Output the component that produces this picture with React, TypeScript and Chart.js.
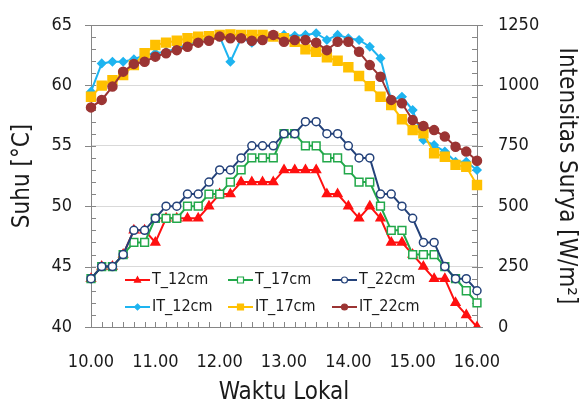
import React, { useEffect, useRef } from 'react';
import { Chart, registerables } from 'chart.js';

Chart.register(...registerables);

// ---- data ----
const times = [
  '10.00', '10.10', '10.20', '10.30', '10.40', '10.50',
  '11.00', '11.10', '11.20', '11.30', '11.40', '11.50',
  '12.00', '12.10', '12.20', '12.30', '12.40', '12.50',
  '13.00', '13.10', '13.20', '13.30', '13.40', '13.50',
  '14.00', '14.10', '14.20', '14.30', '14.40', '14.50',
  '15.00', '15.10', '15.20', '15.30', '15.40', '15.50',
  '16.00',
];

const t12 = [44, 45, 45, 46, 48, 48, 47, 49, 49, 49, 49, 50, 51, 51, 52, 52, 52, 52, 53, 53, 53, 53, 51, 51, 50, 49, 50, 49, 47, 47, 46, 45, 44, 44, 42, 41, 40];
const t17 = [44, 45, 45, 46, 47, 47, 49, 49, 49, 50, 50, 51, 51, 52, 53, 54, 54, 54, 56, 56, 55, 55, 54, 54, 53, 52, 52, 50, 48, 48, 46, 46, 46, 45, 44, 43, 42];
const t22 = [44, 45, 45, 46, 48, 48, 49, 50, 50, 51, 51, 52, 53, 53, 54, 55, 55, 55, 56, 56, 57, 57, 56, 56, 55, 54, 54, 51, 51, 50, 49, 47, 47, 45, 44, 44, 43];

const it12 = [974, 1091, 1098, 1098, 1108, 1126, 1133, 1139, 1153, 1167, 1185, 1195, 1202, 1098, 1195, 1177, 1191, 1205, 1209, 1205, 1209, 1216, 1188, 1209, 1195, 1188, 1160, 1112, 940, 953, 898, 774, 753, 726, 684, 684, 650];
const it17 = [953, 999, 1022, 1043, 1084, 1133, 1167, 1177, 1185, 1195, 1202, 1204, 1209, 1211, 1209, 1209, 1209, 1202, 1195, 1181, 1149, 1139, 1116, 1102, 1075, 1039, 997, 953, 919, 860, 815, 802, 719, 705, 671, 663, 588];
const it22 = [909, 940, 995, 1057, 1089, 1098, 1119, 1133, 1146, 1160, 1177, 1185, 1202, 1195, 1195, 1185, 1188, 1209, 1181, 1188, 1188, 1177, 1146, 1181, 1181, 1139, 1084, 1036, 940, 926, 857, 832, 815, 788, 746, 726, 688];

const seriesNames = ['T_12cm', 'T_17cm', 'T_22cm', 'IT_12cm', 'IT_17cm', 'IT_22cm'];

// ---- styles ----
const FONT = '"DejaVu Sans Condensed", "Liberation Sans", sans-serif';
const AXIS = '#868686';
const GRID = '#d9d9d9';
const TEXT = '#1a1a1a';
const NONE = 'rgba(0,0,0,0)';

const RED = '#ff1010';
const GREEN = '#22a84a';
const NAVY = '#24427a';
const SKY = '#1eb4f0';
const GOLD = '#ffc000';
const BROWN = '#9b3433';

function drawMarker(ctx: CanvasRenderingContext2D, style: string, x: number, y: number, r: number, fill: string, stroke: string, lw: number) {
  ctx.save();
  ctx.beginPath();
  if (style === 'circle') {
    ctx.arc(x, y, r, 0, Math.PI * 2);
  } else if (style === 'rect') {
    ctx.rect(x - r, y - r, 2 * r, 2 * r);
  } else if (style === 'triangle') {
    ctx.moveTo(x, y - r * 1.1);
    ctx.lineTo(x + r, y + r * 0.7);
    ctx.lineTo(x - r, y + r * 0.7);
    ctx.closePath();
  } else if (style === 'rectRot') {
    ctx.moveTo(x, y - r);
    ctx.lineTo(x + r, y);
    ctx.lineTo(x, y + r);
    ctx.lineTo(x - r, y);
    ctx.closePath();
  }
  ctx.fillStyle = fill;
  ctx.fill();
  ctx.lineWidth = lw;
  ctx.strokeStyle = stroke;
  ctx.stroke();
  ctx.restore();
}

const decorPlugin = {
  id: 'decor',
  beforeDatasetsDraw(chart: any) {
    const ctx: CanvasRenderingContext2D = chart.ctx;
    const { left, right, bottom } = chart.chartArea;
    const ys = chart.scales.y;
    const yr = chart.scales.y1;
    const xs = chart.scales.x;
    ctx.save();
    ctx.strokeStyle = AXIS;
    ctx.lineWidth = 1;
    ctx.beginPath();
    for (let v = ys.min; v <= ys.max; v += 1) {
      const p = Math.round(ys.getPixelForValue(v)) + 0.5;
      ctx.moveTo(left, p);
      ctx.lineTo(left + 5, p);
      if (v % 5 === 0) {
        ctx.moveTo(left - 6, p);
        ctx.lineTo(left, p);
      }
    }
    for (let v = yr.min; v <= yr.max; v += 50) {
      const p = Math.round(yr.getPixelForValue(v)) + 0.5;
      ctx.moveTo(right - 5, p);
      ctx.lineTo(right, p);
      if (v % 250 === 0) {
        ctx.moveTo(right, p);
        ctx.lineTo(right + 6, p);
      }
    }
    for (let i = 0; i < times.length; i++) {
      const p = Math.round(xs.getPixelForValue(i)) + 0.5;
      ctx.moveTo(p, bottom);
      ctx.lineTo(p, bottom - 5);
    }
    ctx.stroke();
    ctx.restore();
  },
  afterDraw(chart: any) {
    const ctx: CanvasRenderingContext2D = chart.ctx;
    const { left, bottom } = chart.chartArea;
    const colX = [left + 34, left + 137, left + 241];
    const rowY = [bottom - 47, bottom - 20];
    ctx.save();
    chart.data.datasets.forEach((ds: any, i: number) => {
      const cx = colX[i % 3];
      const cy = rowY[Math.floor(i / 3)];
      ctx.beginPath();
      ctx.strokeStyle = ds.borderColor;
      ctx.lineWidth = 2;
      ctx.moveTo(cx, cy);
      ctx.lineTo(cx + 25, cy);
      ctx.stroke();
      drawMarker(ctx, ds.pointStyle, cx + 12.5, cy, 3, ds.pointBackgroundColor, ds.pointBorderColor, 1.2);
      ctx.fillStyle = TEXT;
      ctx.font = `16px ${FONT}`;
      ctx.textAlign = 'left';
      ctx.textBaseline = 'middle';
      ctx.fillText(ds.label, cx + 27, cy);
    });
    ctx.restore();
  },
};

export default function App() {
  const ref = useRef<HTMLCanvasElement>(null);

  useEffect(() => {
    document.body.style.margin = '0';
    const mk = (label: string, data: number[], color: string, style: string, radius: number, fill: string, axis: string, order: number) => ({
      label,
      data,
      yAxisID: axis,
      borderColor: color,
      backgroundColor: fill,
      borderWidth: 2,
      pointStyle: style,
      pointRadius: radius,
      pointBackgroundColor: fill,
      pointBorderColor: color,
      pointBorderWidth: 1.5,
      tension: 0,
      order,
    });

    const chart = new Chart(ref.current as HTMLCanvasElement, {
      type: 'line',
      data: {
        labels: times,
        datasets: [
          mk(seriesNames[0], t12, RED, 'triangle', 5, RED, 'y', 2),
          mk(seriesNames[1], t17, GREEN, 'rect', 5.5, '#ffffff', 'y', 1),
          mk(seriesNames[2], t22, NAVY, 'circle', 4, '#ffffff', 'y', 0),
          mk(seriesNames[3], it12, SKY, 'rectRot', 4, SKY, 'y1', 5),
          mk(seriesNames[4], it17, GOLD, 'rect', 6.3, GOLD, 'y1', 4),
          mk(seriesNames[5], it22, BROWN, 'circle', 4.5, BROWN, 'y1', 3),
        ] as any,
      },
      options: {
        responsive: false,
        devicePixelRatio: 1,
        animation: false,
        layout: { padding: { left: 0, right: 0, top: 25, bottom: 0 } },
        plugins: {
          legend: { display: false },
          tooltip: { enabled: false },
        },
        scales: {
          x: {
            type: 'category',
            offset: false,
            grid: { display: false, drawTicks: false },
            border: { display: true, color: AXIS, width: 1 },
            ticks: {
              autoSkip: false,
              maxRotation: 0,
              minRotation: 0,
              padding: 25,
              color: TEXT,
              font: { family: FONT, size: 18 },
              callback: (_v: any, i: number) => (i % 6 === 0 ? times[i] : ''),
            },
            title: {
              display: true,
              text: 'Waktu Lokal',
              color: TEXT,
              font: { family: FONT, size: 24, lineHeight: 1 },
              padding: { top: 0, bottom: 0 },
            },
            afterFit: (s: any) => { s.height = 78; },
          },
          y: {
            type: 'linear',
            position: 'left',
            min: 40,
            max: 65,
            grid: {
              drawTicks: true,
              tickLength: 16,
              tickColor: NONE,
              color: (c: any) => (c.tick && c.tick.value === 65 ? AXIS : c.tick && c.tick.value === 40 ? NONE : GRID),
              lineWidth: 1,
            },
            border: { display: true, color: AXIS, width: 1 },
            ticks: {
              stepSize: 5,
              padding: 3,
              color: TEXT,
              font: { family: FONT, size: 18 },
            },
            title: {
              display: true,
              text: 'Suhu [°C]',
              color: TEXT,
              font: { family: FONT, size: 24, lineHeight: 1 },
              padding: { top: 11, bottom: 0 },
            },
            afterFit: (s: any) => { s.width = 91; },
          },
          y1: {
            type: 'linear',
            position: 'right',
            min: 0,
            max: 1250,
            grid: { drawOnChartArea: false, drawTicks: true, tickLength: 18, tickColor: NONE },
            border: { display: true, color: AXIS, width: 1 },
            ticks: {
              stepSize: 250,
              padding: 3,
              color: TEXT,
              font: { family: FONT, size: 18 },
              callback: (v: any) => String(v),
            },
            title: {
              display: true,
              text: 'Intensitas Surya [W/m²]',
              color: TEXT,
              font: { family: FONT, size: 24, lineHeight: 1 },
              padding: { top: 1, bottom: 0 },
            },
            afterFit: (s: any) => { s.width = 102; },
          },
        },
      } as any,
      plugins: [decorPlugin],
    });
    return () => chart.destroy();
  }, []);

  return (
    <div style={{ position: 'absolute', left: 0, top: 0, width: 579, height: 405, background: '#ffffff' }}>
      <canvas ref={ref} width={579} height={405} style={{ display: 'block' }} />
    </div>
  );
}
